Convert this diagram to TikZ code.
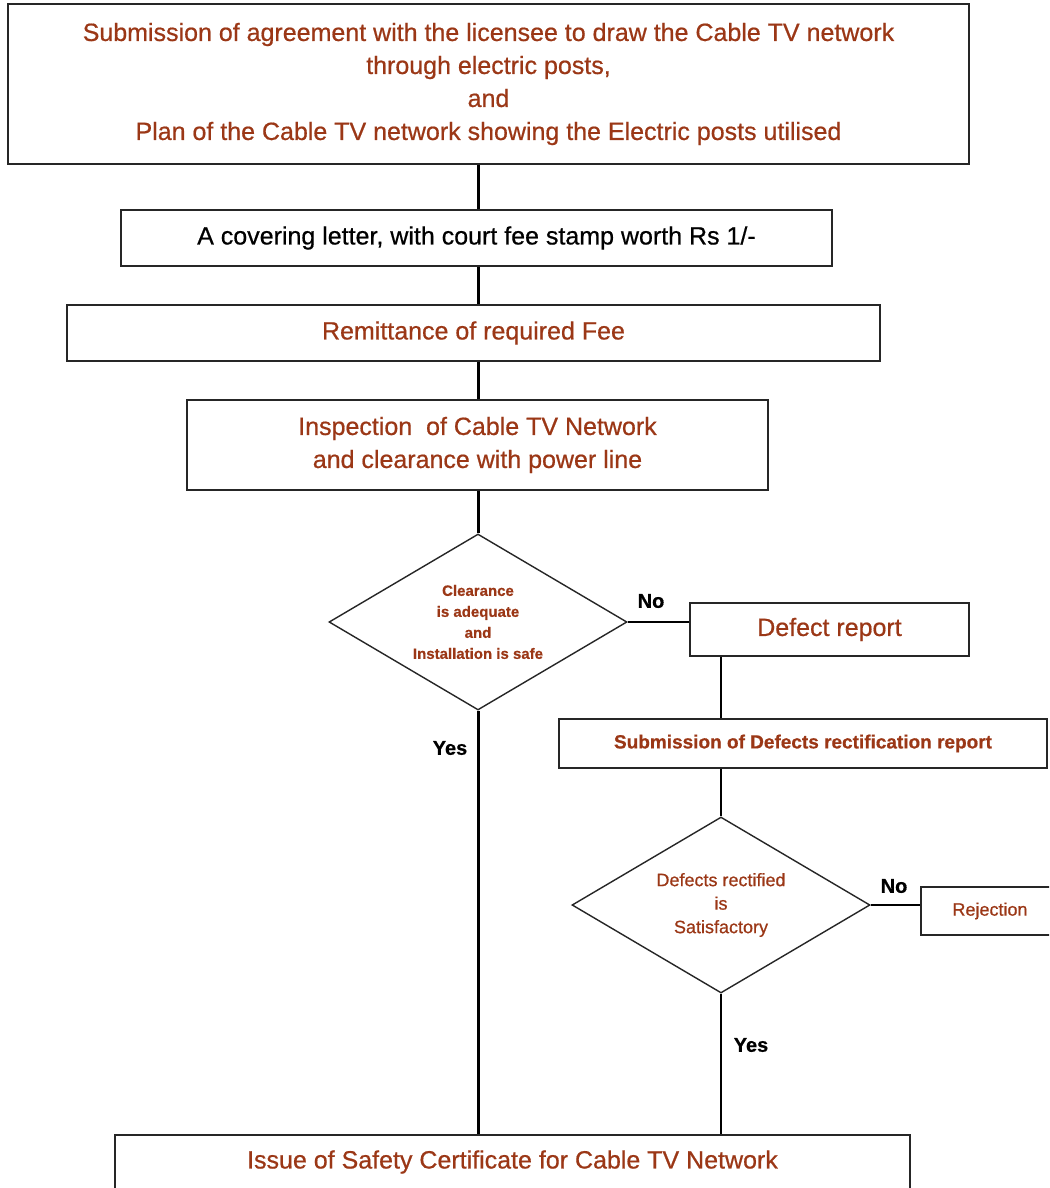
\documentclass[tikz,border=0pt]{standalone}
\usepackage{fontspec}
\setmainfont{Liberation Sans}[FakeBold=0.6]
\usetikzlibrary{shapes.geometric}
\definecolor{brn}{RGB}{155,55,22}
\begin{document}
\begin{tikzpicture}[x=1pt,y=-1pt,
  box/.style={draw=black!85, line width=1.4pt, fill=white, inner sep=0pt, align=center, text=brn,
    font=\fontsize{25}{33}\selectfont},
  dia/.style={diamond, aspect=1.7, draw=black!85, line width=1.4pt, inner sep=0pt, align=center, text=brn,
    minimum width=298pt, minimum height=176pt},
  mainline/.style={line width=3pt},
  thinline/.style={line width=1.5pt},
  lbl/.style={font=\fontsize{20}{24}\selectfont\bfseries, text=black}]
\useasboundingbox (0,0) rectangle (1049,1188);
\clip (0,0) rectangle (1049,1188);
\fill[white] (0,0) rectangle (1049,1188);

\node[box, minimum width=961pt, minimum height=160pt] (top) at (488.5,84)
  {Submission of agreement with the licensee to draw the Cable TV network\\through electric posts,\\and\\Plan of the Cable TV network showing the Electric posts utilised};
\node[box, minimum width=711pt, minimum height=56pt, text=black] (cover) at (476.5,238)
  {A covering letter, with court fee stamp worth Rs 1/-};
\node[box, minimum width=813pt, minimum height=56pt] (fee) at (473.5,333)
  {Remittance of required Fee};
\node[box, minimum width=581pt, minimum height=90pt] (insp) at (477.5,445)
  {Inspection\ \ of Cable TV Network\\and clearance with power line};
\node[dia, font=\fontsize{15}{21}\selectfont\bfseries] (d1) at (478,622)
  {Clearance\\is adequate\\and\\Installation is safe};
\node[box, minimum width=279pt, minimum height=53pt] (defect) at (829.5,629.5)
  {Defect report};
\node[box, minimum width=488pt, minimum height=49pt, font=\fontsize{19}{23}\selectfont\bfseries] (subm) at (803,743.5)
  {Submission of Defects rectification report};
\node[dia, font=\fontsize{18}{23.5}\selectfont] (d2) at (721,905)
  {Defects rectified\\is\\Satisfactory};
\node[box, minimum width=138pt, minimum height=48pt, font=\fontsize{18}{22}\selectfont] (rej) at (990,911)
  {Rejection};
\node[box, minimum width=795pt, minimum height=54pt] (cert) at (512.5,1162)
  {Issue of Safety Certificate for Cable TV Network};

\draw[mainline] (top.south -| d1.north) -- (cover.north -| d1.north);
\draw[mainline] (cover.south -| d1.north) -- (fee.north -| d1.north);
\draw[mainline] (fee.south -| d1.north) -- (insp.north -| d1.north);
\draw[mainline] (insp.south -| d1.north) -- (d1.north);
\draw[mainline] (d1.south) -- (cert.north -| d1.south);
\draw[thinline] (d1.east) -- (d1.east -| defect.west);
\draw[thinline] (defect.south -| d2.north) -- (subm.north -| d2.north);
\draw[thinline] (subm.south -| d2.north) -- (d2.north);
\draw[thinline] (d2.east) -- (d2.east -| rej.west);
\draw[thinline] (d2.south) -- (cert.north -| d2.south);

\node[lbl] (no1) at (651,601) {No};
\node[lbl] (yes1) at (450,748) {Yes};
\node[lbl] (no2) at (894,886) {No};
\node[lbl] (yes2) at (751,1045) {Yes};
\end{tikzpicture}
\end{document}
